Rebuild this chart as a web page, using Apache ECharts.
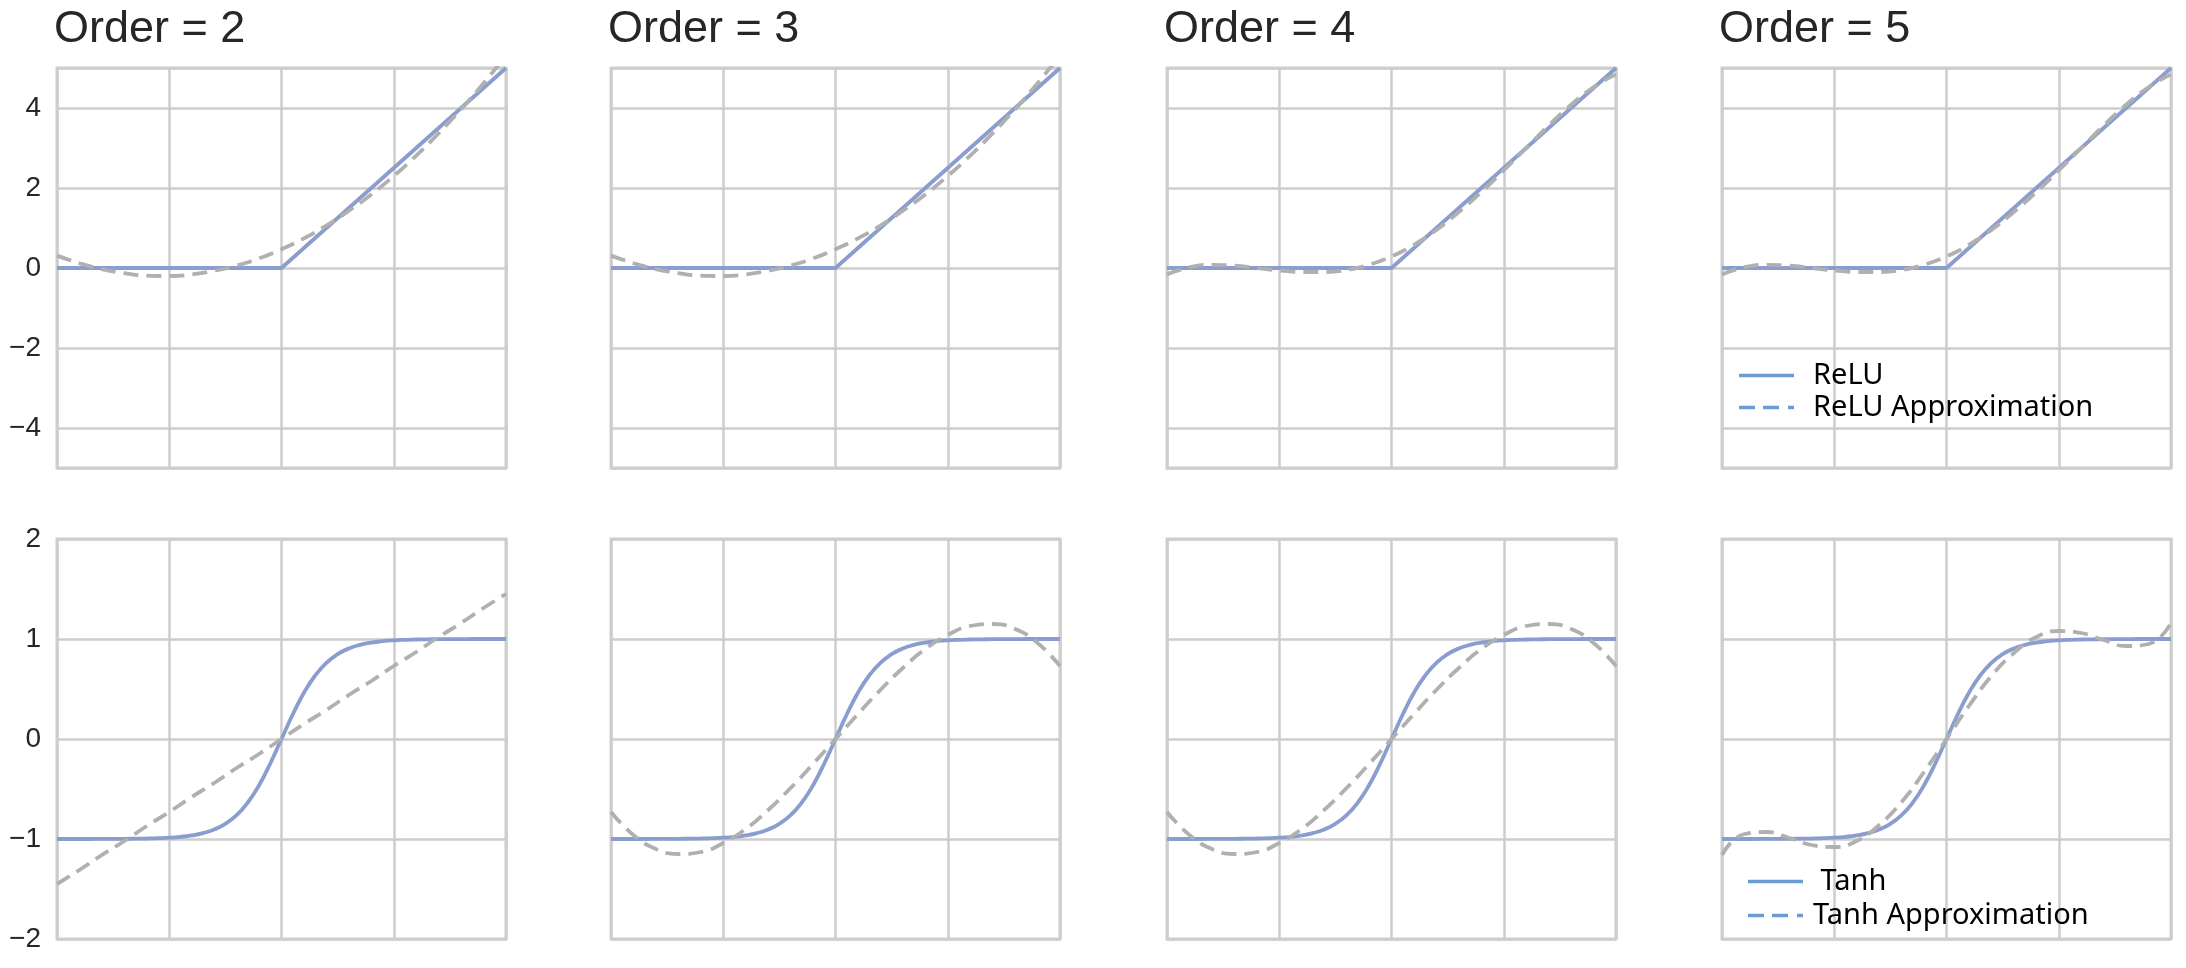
<!DOCTYPE html>
<html>
<head>
<meta charset="utf-8">
<script src="https://cdn.jsdelivr.net/npm/echarts@6/dist/echarts.min.js"></script>
<style>
  html, body { margin: 0; padding: 0; background: #fff; }
  #chart { width: 2186px; height: 968px; }
</style>
</head>
<body>
<div id="chart"></div>
<script>
// polynomial orders, one column each
var orders = [2, 3, 4, 5];

// sample positions on the x axis
var xs = [-5, -4.5, -4, -3.5, -3, -2.5, -2, -1.5, -1, -0.5, 0,
          0.5, 1, 1.5, 2, 2.5, 3, 3.5, 4, 4.5, 5];
// finer positions for the steep tanh curve
var xsFine = [-5, -4.75, -4.5, -4.25, -4, -3.75, -3.5, -3.25, -3, -2.75, -2.5,
              -2.25, -2, -1.75, -1.5, -1.25, -1, -0.75, -0.5, -0.25, 0,
              0.25, 0.5, 0.75, 1, 1.25, 1.5, 1.75, 2, 2.25, 2.5,
              2.75, 3, 3.25, 3.5, 3.75, 4, 4.25, 4.5, 4.75, 5];

// top row: ReLU and its fits
var reluY = [0, 0, 0, 0, 0, 0, 0, 0, 0, 0, 0,
             0.5, 1, 1.5, 2, 2.5, 3, 3.5, 4, 4.5, 5];
var reluApprox2 = [0.31, 0.12, -0.03, -0.13, -0.19, -0.2, -0.16, -0.07, 0.06, 0.24, 0.47,
                   0.74, 1.06, 1.43, 1.84, 2.3, 2.81, 3.37, 3.97, 4.62, 5.31];
var reluApprox3 = [0.31, 0.12, -0.03, -0.13, -0.19, -0.2, -0.16, -0.07, 0.06, 0.24, 0.47,
                   0.74, 1.06, 1.43, 1.84, 2.3, 2.81, 3.37, 3.97, 4.62, 5.31];
var reluApprox4 = [-0.16, 0.02, 0.08, 0.06, 0, -0.06, -0.1, -0.1, -0.05, 0.08, 0.29,
                   0.58, 0.95, 1.4, 1.9, 2.44, 3.0, 3.56, 4.08, 4.52, 4.84];
var reluApprox5 = [-0.16, 0.02, 0.08, 0.06, 0, -0.06, -0.1, -0.1, -0.05, 0.08, 0.29,
                   0.58, 0.95, 1.4, 1.9, 2.44, 3.0, 3.56, 4.08, 4.52, 4.84];

// bottom row: Tanh (on xsFine) and its fits (on xs)
var tanhY = [-1, -1, -1, -1, -0.999, -0.999, -0.998, -0.997, -0.995, -0.992, -0.987,
             -0.978, -0.964, -0.941, -0.905, -0.848, -0.762, -0.635, -0.462, -0.245, 0,
             0.245, 0.462, 0.635, 0.762, 0.848, 0.905, 0.941, 0.964, 0.978, 0.987,
             0.992, 0.995, 0.997, 0.998, 0.999, 0.999, 1, 1, 1, 1];
var tanhApprox2 = [-1.45, -1.31, -1.16, -1.02, -0.87, -0.73, -0.58, -0.44, -0.29, -0.15, 0,
                   0.15, 0.29, 0.44, 0.58, 0.73, 0.87, 1.02, 1.16, 1.31, 1.45];
var tanhApprox3 = [-0.73, -0.96, -1.1, -1.15, -1.13, -1.04, -0.9, -0.71, -0.49, -0.25, 0,
                   0.25, 0.49, 0.71, 0.9, 1.04, 1.13, 1.15, 1.1, 0.96, 0.73];
var tanhApprox4 = [-0.73, -0.96, -1.1, -1.15, -1.13, -1.04, -0.9, -0.71, -0.49, -0.25, 0,
                   0.25, 0.49, 0.71, 0.9, 1.04, 1.13, 1.15, 1.1, 0.96, 0.73];
var tanhApprox5 = [-1.16, -0.95, -0.93, -0.99, -1.06, -1.08, -1.02, -0.86, -0.63, -0.33, 0,
                   0.33, 0.63, 0.86, 1.02, 1.08, 1.06, 0.99, 0.93, 0.95, 1.16];

var reluFits = [reluApprox2, reluApprox3, reluApprox4, reluApprox5];
var tanhFits = [tanhApprox2, tanhApprox3, tanhApprox4, tanhApprox5];

var panelLeft = [57, 611, 1167, 1722];
var panelWidth = 449;
var rowTop = [68, 539];
var rowHeight = 400;

var gridColor = '#cdcdcd';
var trueColor = '#8a9dcf';
var fitColor = '#b0b0b0';
var legendColor = '#6c9bd2';

function pairs(px, ys) {
    return px.map(function (x, i) { return [x, ys[i]]; });
}
function minus(v) {
    return v < 0 ? '\u2212' + Math.abs(v) : String(v);
}

var grids = [], xAxes = [], yAxes = [], series = [];

for (var row = 0; row < 2; row++) {
    for (var c = 0; c < 4; c++) {
        var gi = row * 4 + c;
        grids.push({
            left: panelLeft[c], top: rowTop[row], width: panelWidth, height: rowHeight,
            show: true, borderColor: gridColor, borderWidth: 3, backgroundColor: '#fff',
            outerBoundsMode: 'none', containLabel: false
        });
        xAxes.push({
            type: 'value', gridIndex: gi, min: -5, max: 5, interval: 2.5,
            axisLine: {show: false}, axisTick: {show: false}, axisLabel: {show: false},
            splitLine: {show: true, lineStyle: {color: gridColor, width: 2.5}}
        });
        var y = {
            type: 'value', gridIndex: gi,
            axisLine: {show: false}, axisTick: {show: false},
            splitLine: {show: true, lineStyle: {color: gridColor, width: 2.5}},
            axisLabel: {
                show: c === 0, formatter: minus, margin: 16,
                fontFamily: 'Liberation Sans', fontSize: 28, color: '#262626'
            }
        };
        if (row === 0) {
            // ticks fall on -4..4, the frame sits on -5 and 5
            y.min = -5; y.max = 5; y.splitNumber = 5;
            y.axisLabel.showMinLabel = false; y.axisLabel.showMaxLabel = false;
        } else {
            y.min = -2; y.max = 2; y.interval = 1;
        }
        yAxes.push(y);
    }
}

for (var c = 0; c < 4; c++) {
    series.push({
        name: 'ReLU', type: 'line', xAxisIndex: c, yAxisIndex: c,
        data: pairs(xs, reluY), showSymbol: false, symbol: 'none',
        lineStyle: {color: trueColor, width: 3.8}, itemStyle: {color: trueColor}, z: 3
    });
    series.push({
        name: 'ReLU Approximation', type: 'line', xAxisIndex: c, yAxisIndex: c,
        data: pairs(xs, reluFits[c]), smooth: true, showSymbol: false, symbol: 'none',
        lineStyle: {color: fitColor, width: 3.8, type: [15, 8]}, itemStyle: {color: fitColor}, z: 4
    });
    series.push({
        name: 'Tanh', type: 'line', xAxisIndex: 4 + c, yAxisIndex: 4 + c,
        data: pairs(xsFine, tanhY), smooth: true, showSymbol: false, symbol: 'none',
        lineStyle: {color: trueColor, width: 3.8}, itemStyle: {color: trueColor}, z: 3
    });
    series.push({
        name: 'Tanh Approximation', type: 'line', xAxisIndex: 4 + c, yAxisIndex: 4 + c,
        data: pairs(xs, tanhFits[c]), smooth: true, showSymbol: false, symbol: 'none',
        lineStyle: {color: fitColor, width: 3.8, type: [15, 8]}, itemStyle: {color: fitColor}, z: 4
    });
}

var solidIcon = 'path://M0,0h55v3.5h-55z';
var dashIcon = 'path://M0,0h16v3.5h-16zM24,0h16v3.5h-16zM49,0h6v3.5h-6z';

function legendItem(name, icon) {
    return {name: name, icon: icon, itemStyle: {color: legendColor, borderWidth: 0}};
}
var legendText = {fontFamily: 'Noto Sans', fontSize: 29, color: '#000'};

var titles = orders.map(function (o, i) {
    return {
        text: 'Order = ' + o, left: panelLeft[i] - 3, top: 7, padding: 0,
        textStyle: {fontFamily: 'Liberation Sans', fontSize: 45, fontWeight: 'normal', color: '#262626'}
    };
});

var chart = echarts.init(document.getElementById('chart'));
chart.setOption({
    backgroundColor: '#fff',
    animation: false,
    title: titles,
    grid: grids,
    xAxis: xAxes,
    yAxis: yAxes,
    legend: [{
        data: [legendItem('ReLU', solidIcon), legendItem('ReLU Approximation', dashIcon)],
        orient: 'vertical', left: 1739, top: 361, padding: 0,
        itemWidth: 55, itemHeight: 3.5, itemGap: 3, selectedMode: false,
        textStyle: Object.assign({padding: [0, 0, 0, 14]}, legendText)
    }, {
        data: [legendItem('Tanh', solidIcon), legendItem('Tanh Approximation', dashIcon)],
        orient: 'vertical', left: 1748, top: 867, padding: 0,
        itemWidth: 55, itemHeight: 3.5, itemGap: 5, selectedMode: false,
        formatter: function (n) { return n === 'Tanh' ? ' ' + n : n; },
        textStyle: Object.assign({padding: [0, 0, 0, 5]}, legendText)
    }],
    series: series
});
</script>
</body>
</html>
